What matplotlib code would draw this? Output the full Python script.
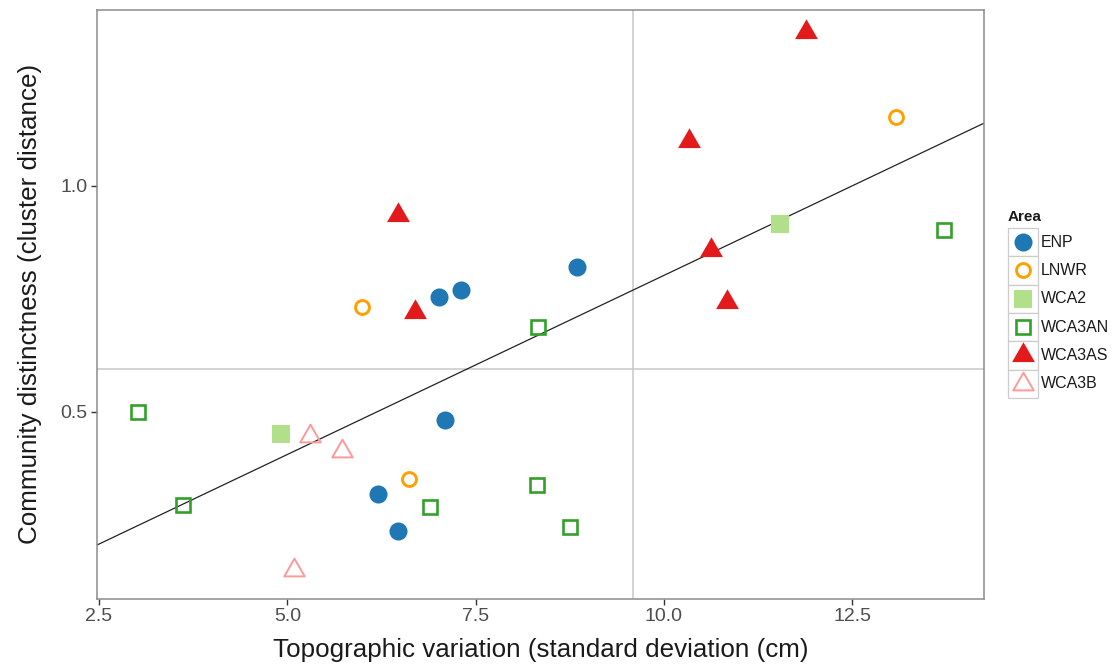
import numpy as np
import matplotlib
matplotlib.use("Agg")
import matplotlib.pyplot as plt
from matplotlib.path import Path
from matplotlib.patches import Rectangle

plt.rcParams['font.family'] = ['Liberation Sans', 'DejaVu Sans']

# ---- data ----
areas = ["ENP", "LNWR", "WCA2", "WCA3AN", "WCA3AS", "WCA3B"]
enp_x = [7.02, 7.30, 8.845, 7.09, 6.21, 6.47]
enp_y = [0.754, 0.769, 0.819, 0.482, 0.318, 0.236]
lnwr_x = [5.99, 13.08, 6.615]
lnwr_y = [0.732, 1.151, 0.351]
wca2_x = [4.92, 11.54]
wca2_y = [0.450, 0.916]
wca3an_x = [3.014, 3.62, 8.33, 13.72, 6.89, 8.31, 8.75]
wca3an_y = [0.500, 0.294, 0.688, 0.902, 0.289, 0.338, 0.245]
wca3as_x = [6.465, 6.69, 11.88, 10.33, 10.63, 10.84]
wca3as_y = [0.935, 0.721, 1.340, 1.099, 0.857, 0.742]
wca3b_x = [5.30, 5.73, 5.09]
wca3b_y = [0.446, 0.412, 0.150]

x_ticks = [2.5, 5.0, 7.5, 10.0, 12.5]
x_ticklabels = ["2.5", "5.0", "7.5", "10.0", "12.5"]
y_ticks = [0.5, 1.0]
y_ticklabels = ["0.5", "1.0"]
vline_x = 9.585
hline_y = 0.594

xs = [enp_x, lnwr_x, wca2_x, wca3an_x, wca3as_x, wca3b_x]
ys = [enp_y, lnwr_y, wca2_y, wca3an_y, wca3as_y, wca3b_y]

# ---- styles ----
tri = Path([(-1, -0.577), (1, -0.577), (0, 1.155), (-1, -0.577)],
           [Path.MOVETO, Path.LINETO, Path.LINETO, Path.CLOSEPOLY])
styles = {
    "ENP":    dict(marker="o", ms=13.0, mfc="#1f78b4", mec="#1f78b4", mew=0),
    "LNWR":   dict(marker="o", ms=10.0, mfc="none", mec="#ffa000", mew=2.1),
    "WCA2":   dict(marker="s", ms=12.5, mfc="#b2df8a", mec="#b2df8a", mew=0),
    "WCA3AN": dict(marker="s", ms=9.4, mfc="none", mec="#33a02c", mew=1.9),
    "WCA3AS": dict(marker=tri, ms=19.0, mfc="#e31a1c", mec="#e31a1c", mew=0),
    "WCA3B":  dict(marker=tri, ms=17.0, mfc="none", mec="#fb9a99", mew=1.4),
}

W, H = 1117, 668
fig = plt.figure(figsize=(W / 100, H / 100), dpi=100)
ax = fig.add_axes([97 / W, 1 - 598.5 / H, (984 - 97) / W, (598.5 - 10) / H])

ax.axvline(vline_x, color="#c8c8c8", lw=1.1, zorder=1)
ax.axhline(hline_y, color="#c8c8c8", lw=1.1, zorder=1)

allx = np.concatenate([np.array(v, float) for v in xs])
ally = np.concatenate([np.array(v, float) for v in ys])
slope, icpt = np.polyfit(allx, ally, 1)
xlim = (2.473, 14.25)
ax.set_xlim(xlim)
ax.set_ylim(0.087, 1.388)
lx = np.array(xlim)
ax.plot(lx, icpt + slope * lx, color="#222222", lw=0.9, zorder=2)

for a, x, y in zip(areas, xs, ys):
    ax.plot(x, y, ls="none", zorder=3, **styles[a])

ax.set_xticks(x_ticks)
ax.set_xticklabels(x_ticklabels)
ax.set_yticks(y_ticks)
ax.set_yticklabels(y_ticklabels)
ax.tick_params(axis="both", direction="out", length=4, width=1, color="#333333",
               labelsize=14, labelcolor="#4d4d4d", pad=3)
for s in ax.spines.values():
    s.set_color("#8c8c8c")
    s.set_linewidth(1.1)
ax.set_xlabel("Topographic variation (standard deviation (cm)", fontsize=18.7,
              color="#1a1a1a", labelpad=9)
ax.set_ylabel("Community distinctness (cluster distance)", fontsize=18.7,
              color="#1a1a1a", labelpad=13)

# ---- legend (drawn in pixel space) ----
lg = fig.add_axes([0, 0, 1, 1], facecolor="none")
lg.set_xlim(0, W)
lg.set_ylim(H, 0)
lg.axis("off")
lg.text(1008, 217, "Area", fontsize=11, fontweight="bold", va="center", ha="left",
        color="#1a1a1a")
key_top = 228.0
key_h = 28.3
for i, a in enumerate(areas):
    top = key_top + i * key_h
    lg.add_patch(Rectangle((1008, top), 29.5, key_h, facecolor="white",
                           edgecolor="#cccccc", lw=0.9))
    cy = top + key_h / 2
    st = dict(styles[a])
    lg.plot([1022.75], [cy], ls="none", **st)
    lg.text(1041, cy, a, fontsize=11.5, va="center", ha="left", color="#1a1a1a")

fig.savefig("out.png", dpi=100)
